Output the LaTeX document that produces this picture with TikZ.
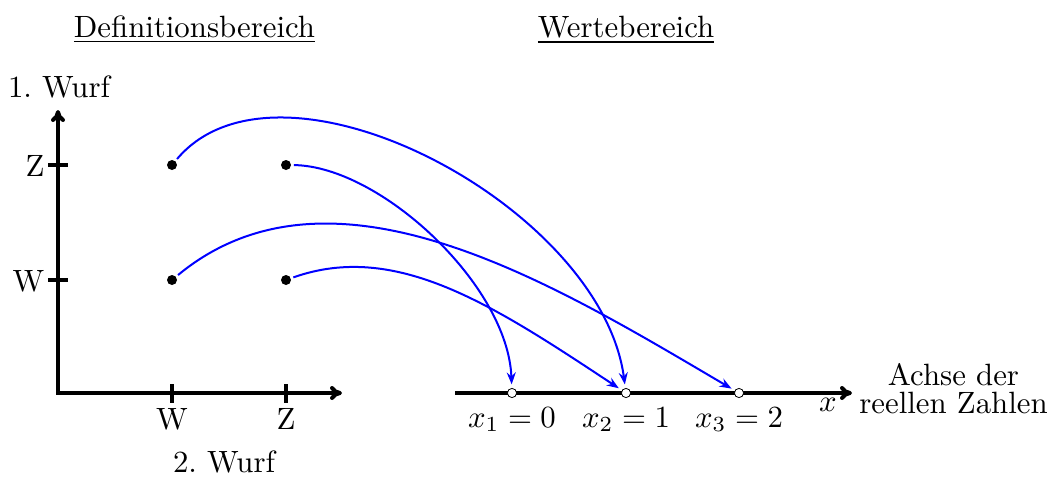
\documentclass[tikz,border=0pt]{standalone}
\usetikzlibrary{arrows.meta}
\begin{document}
\begin{tikzpicture}[x=0.5pt,y=-0.5pt,
  every node/.style={font=\fontsize{10}{9.3}\selectfont, inner sep=0pt},
  lbl/.style={scale=1.54},
  axisline/.style={line width=2pt},
  axtip/.style={},
  dot/.style={circle, fill=black, minimum size=5pt, inner sep=0pt, outer sep=1.4pt},
  opendot/.style={circle, draw=black, fill=white, line width=0.4pt, minimum size=4.6pt, inner sep=0pt, outer sep=2pt},
  mapto/.style={draw=blue, line width=1pt, -{Stealth[length=6pt,width=4.5pt,inset=2pt]}}
]
\useasboundingbox (0,0) rectangle (1051,478);

% titles
\node[lbl, anchor=base] (def) at (194.5,37) {\underline{Definitionsbereich}};
\node[lbl, anchor=base] (wert) at (626,37) {\underline{Wertebereich}};

% left coordinate system
\coordinate (ytip) at (58,110);
\coordinate (O) at (58,393);
\coordinate (xtip) at (342,393);
\draw[axisline, {Computer Modern Rightarrow[length=6pt,width=7pt]}-{Computer Modern Rightarrow[length=6pt,width=7pt]}] (ytip) |- (xtip);
\draw[axisline] (48,165) -- (68,165);
\draw[axisline] (48,280) -- (68,280);
\draw[axisline] (172,384) -- (172,403);
\draw[axisline] (286,384) -- (286,403);

\node[lbl, anchor=base] (wurf1) at (59,97) {1.\ Wurf};
\node[lbl, anchor=base] (wurf2) at (224,472) {2.\ Wurf};
\node[lbl, anchor=east] (yz) at (45,166) {Z};
\node[lbl, anchor=east] (yw) at (45,281) {W};
\node[lbl, anchor=north] (xw) at (172,408) {W};
\node[lbl, anchor=north] (xz) at (286,408) {Z};

% outcomes
\node[dot] (zw) at (172,165) {};
\node[dot] (zz) at (286,165) {};
\node[dot] (ww) at (172,280) {};
\node[dot] (wz) at (286,280) {};

% real axis
\coordinate (rstart) at (455,393);
\coordinate (rend) at (852,393);
\draw[axisline, -{Computer Modern Rightarrow[length=6pt,width=7pt]}] (rstart) -- (rend);
\node[opendot] (p0) at (512,393) {};
\node[opendot] (p1) at (626,393) {};
\node[opendot] (p2) at (739,393) {};
\node[lbl, anchor=base] (l0) at (512,427) {$x_1 = 0$};
\node[lbl, anchor=base] (l1) at (626,427) {$x_2 = 1$};
\node[lbl, anchor=base] (l2) at (739,427) {$x_3 = 2$};
\node[lbl, anchor=base] (xl) at (828,411) {$x$};
\node[lbl, align=center] (achse) at (953.5,388.5) {Achse der\\reellen Zahlen};

% mappings
\draw[mapto] (zw) .. controls +(108,-128) and +(-25,-187) .. (p1);
\draw[mapto] (zz) .. controls +(94,1) and +(-4,-108) .. (p0);
\draw[mapto] (ww) .. controls +(161,-133) and +(-182,-107) .. (p2);
\draw[mapto] (wz) .. controls +(110,-39) and +(-133,-88) .. (p1);
\end{tikzpicture}
\end{document}
